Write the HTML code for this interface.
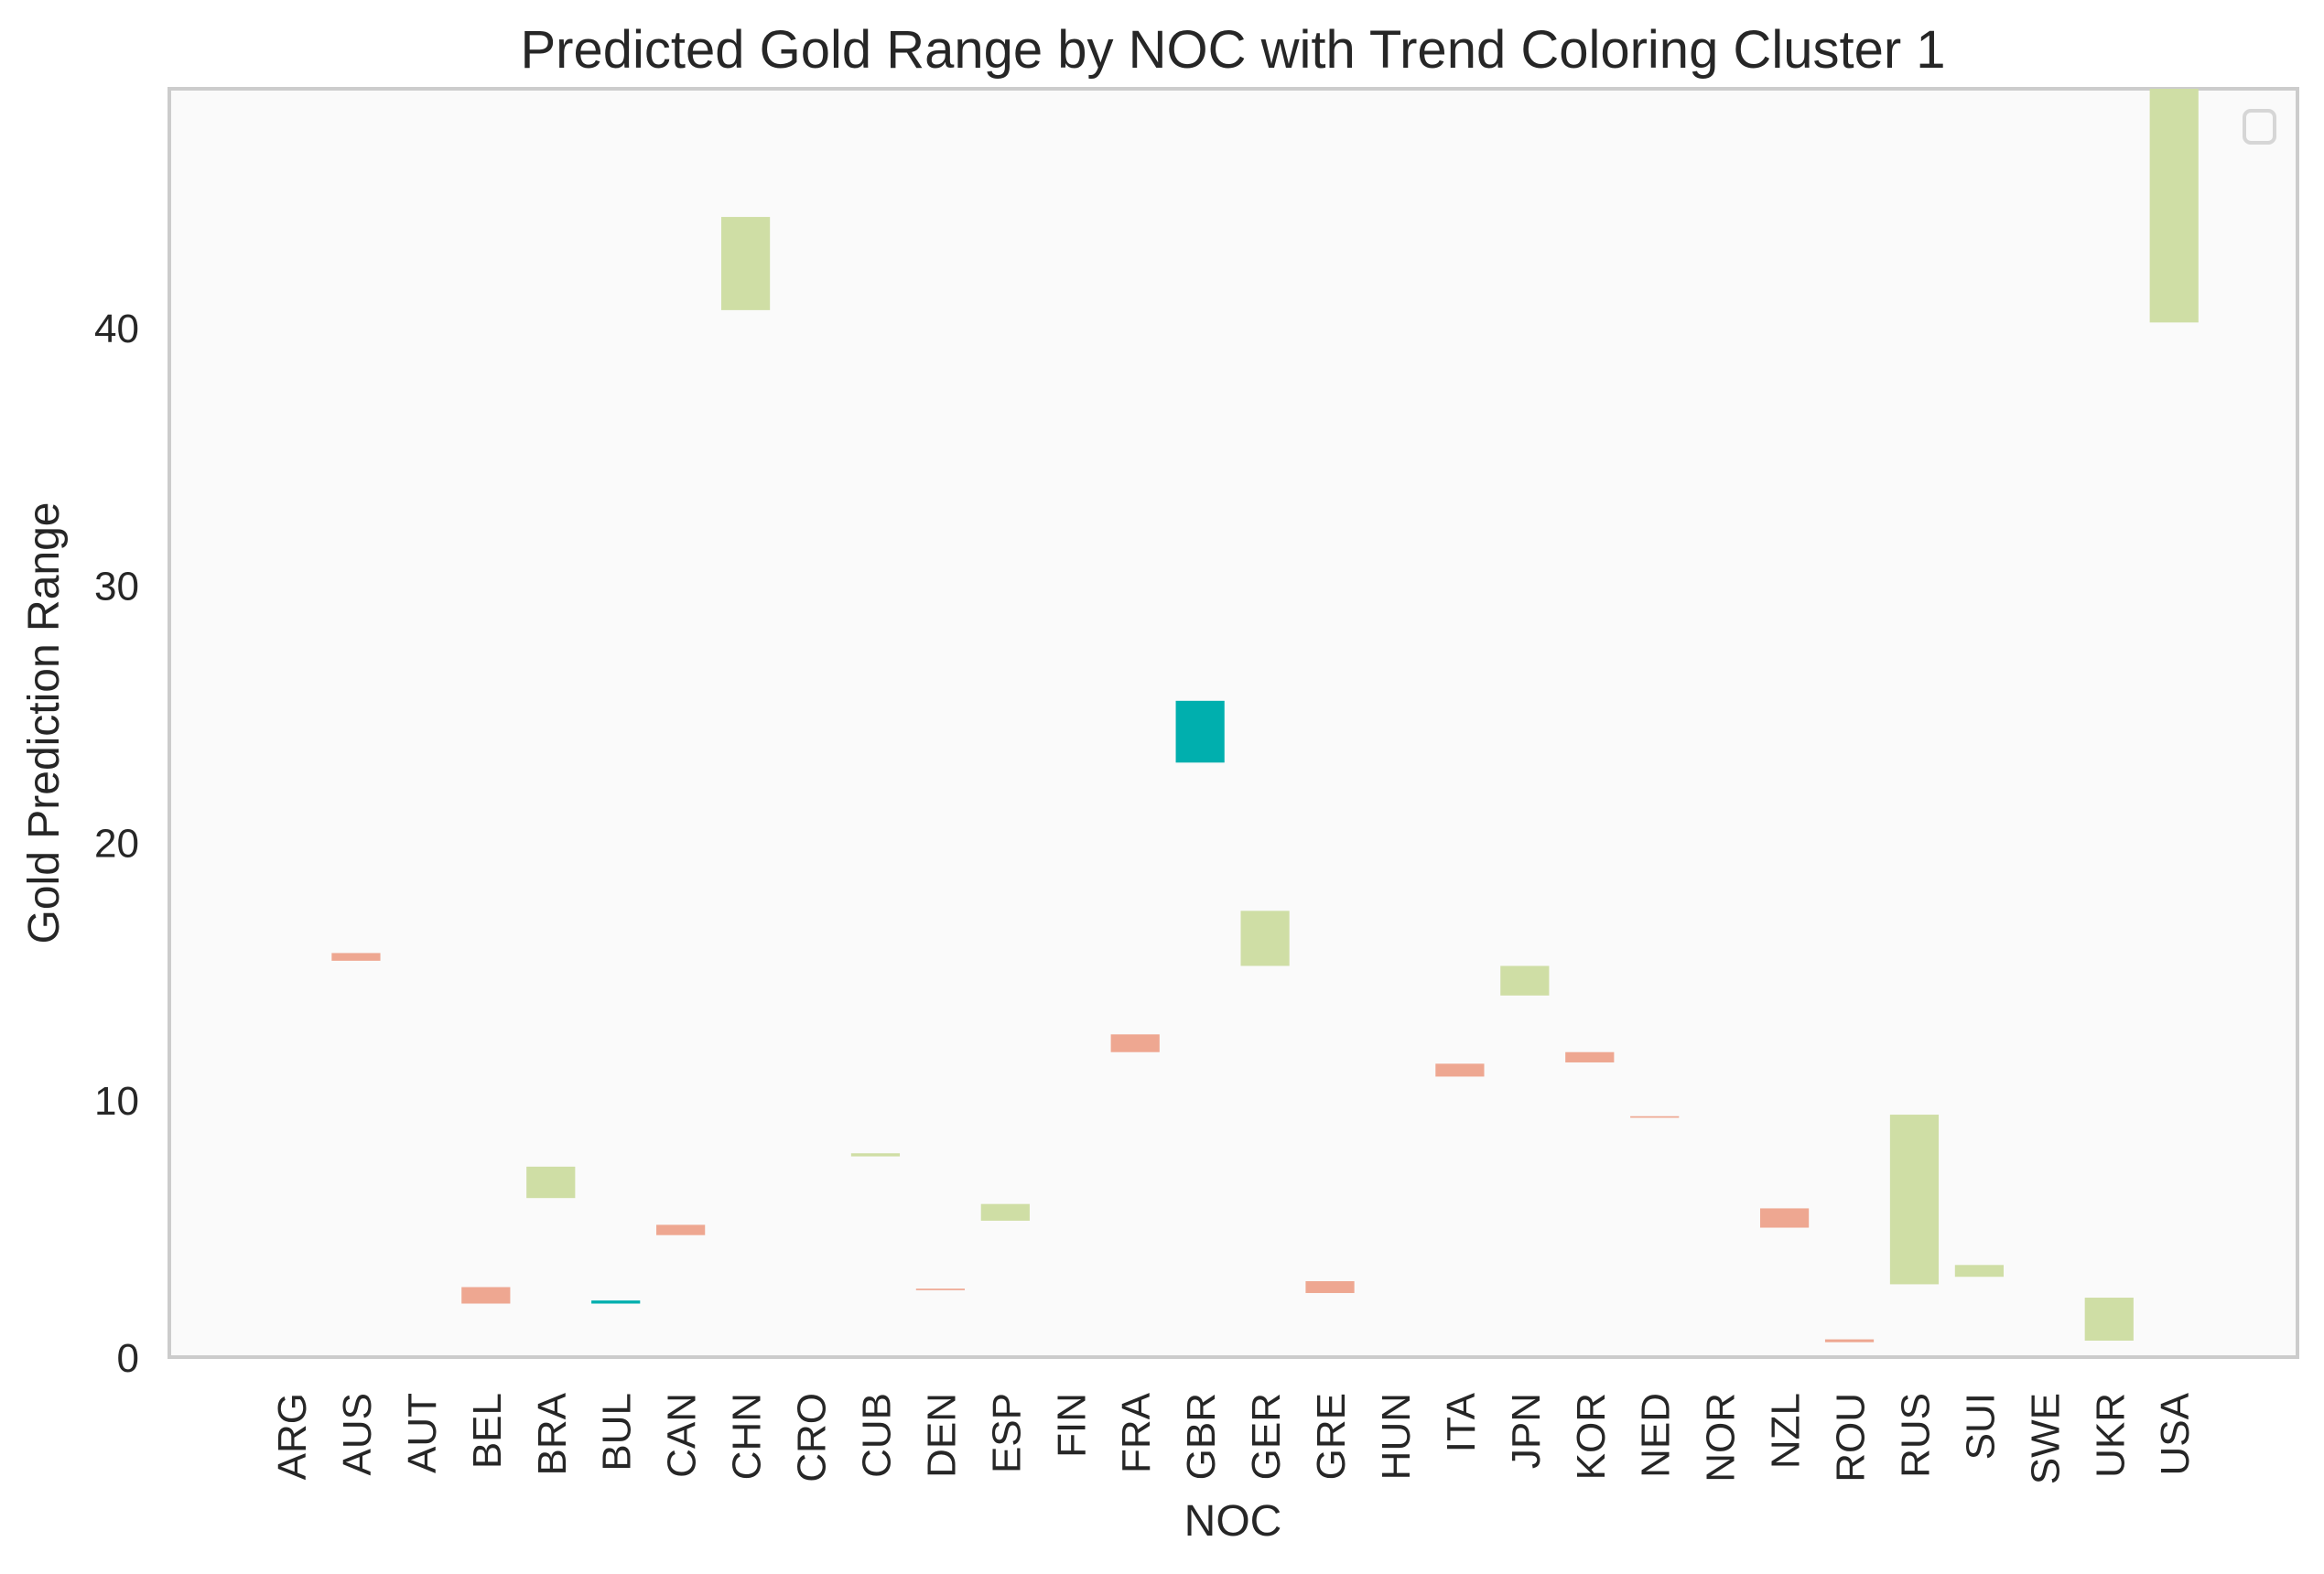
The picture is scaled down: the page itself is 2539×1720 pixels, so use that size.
<!DOCTYPE html>
<html><head><meta charset="utf-8"><style>
html,body{margin:0;padding:0;background:#fff;}
svg{display:block;font-family:"Liberation Sans",Arial,sans-serif;}
</style></head><body>
<svg id="chart" width="2539" height="1720" viewBox="0 0 2539 1720">
<rect x="185" y="97" width="2325" height="1386" fill="#fafafa" stroke="#cccccc" stroke-width="4"/>
<g id="bars"></g>
<g id="xticks"></g>
<g id="yticks"></g>
<text x="1347" y="74" font-size="58" fill="#262626" text-anchor="middle">Predicted Gold Range by NOC with Trend Coloring Cluster 1</text>
<text x="1347" y="1678" font-size="48" fill="#262626" text-anchor="middle">NOC</text>
<text transform="translate(64,790) rotate(-90)" font-size="48" fill="#262626" text-anchor="middle">Gold Prediction Range</text>
<rect x="2452" y="121" width="33" height="35" rx="7" fill="none" stroke="#d6d6d6" stroke-width="4"/>
</svg>
<script>
const categories=["ARG","AUS","AUT","BEL","BRA","BUL","CAN","CHN","CRO","CUB","DEN","ESP","FIN","FRA","GBR","GER","GRE","HUN","ITA","JPN","KOR","NED","NOR","NZL","ROU","RUS","SUI","SWE","UKR","USA"];
const lowValues=[null,15.4,null,2.08,6.18,2.08,4.74,40.68,null,7.8,2.6,5.3,null,11.85,23.1,15.2,2.49,null,10.9,14.05,11.45,9.3,null,5.03,0.58,2.83,3.12,null,0.64,40.2];
const highValues=[null,15.7,null,2.72,7.4,2.2,5.14,44.3,null,7.92,2.66,5.95,null,12.54,25.5,17.34,2.95,null,11.4,15.2,11.85,9.36,null,5.78,0.69,9.42,3.58,null,2.31,50];
const trends=[null,"down",null,"down","up","flat","down","up",null,"up","down","up",null,"down","flat","up","down",null,"down","up","down","down",null,"down","down","up","up",null,"up","up"];
const yTicks=[0,10,20,30,40];

const NS="http://www.w3.org/2000/svg";
const L=185,R=2510,T=97,B=1483,xmin=-1.875,xmax=30.9,ymin=0,ymax=49.28;
const xs=v=>L+(v-xmin)/(xmax-xmin)*(R-L);
const ys=v=>B-(v-ymin)/(ymax-ymin)*(B-T);
const colors={up:"#cfdea5",down:"#eea791",flat:"#00afae"};
const bw=0.75;
const bars=document.getElementById("bars");
for(let i=0;i<categories.length;i++){
  if(lowValues[i]==null)continue;
  const r=document.createElementNS(NS,"rect");
  const top=Math.max(ys(highValues[i]),T);
  r.setAttribute("x",xs(i-bw/2));
  r.setAttribute("width",xs(i+bw/2)-xs(i-bw/2));
  r.setAttribute("y",top);
  r.setAttribute("height",Math.max(ys(lowValues[i])-top,1.5));
  r.setAttribute("fill",colors[trends[i]]);
  
  
  bars.appendChild(r);
}
const xt=document.getElementById("xticks");
categories.forEach((c,i)=>{
  const t=document.createElementNS(NS,"text");
  t.setAttribute("transform","translate("+(xs(i)+16)+",1522) rotate(-90)");
  t.setAttribute("text-anchor","end");
  t.setAttribute("font-size","44");
  t.setAttribute("fill","#262626");
  t.textContent=c;
  
  
  xt.appendChild(t);
});
const yt=document.getElementById("yticks");
yTicks.forEach(v=>{
  const t=document.createElementNS(NS,"text");
  t.setAttribute("x",152);
  t.setAttribute("y",ys(v)+16);
  t.setAttribute("text-anchor","end");
  t.setAttribute("font-size","44");
  t.setAttribute("fill","#262626");
  t.textContent=v;
  
  
  yt.appendChild(t);
});
</script>
</body></html>
